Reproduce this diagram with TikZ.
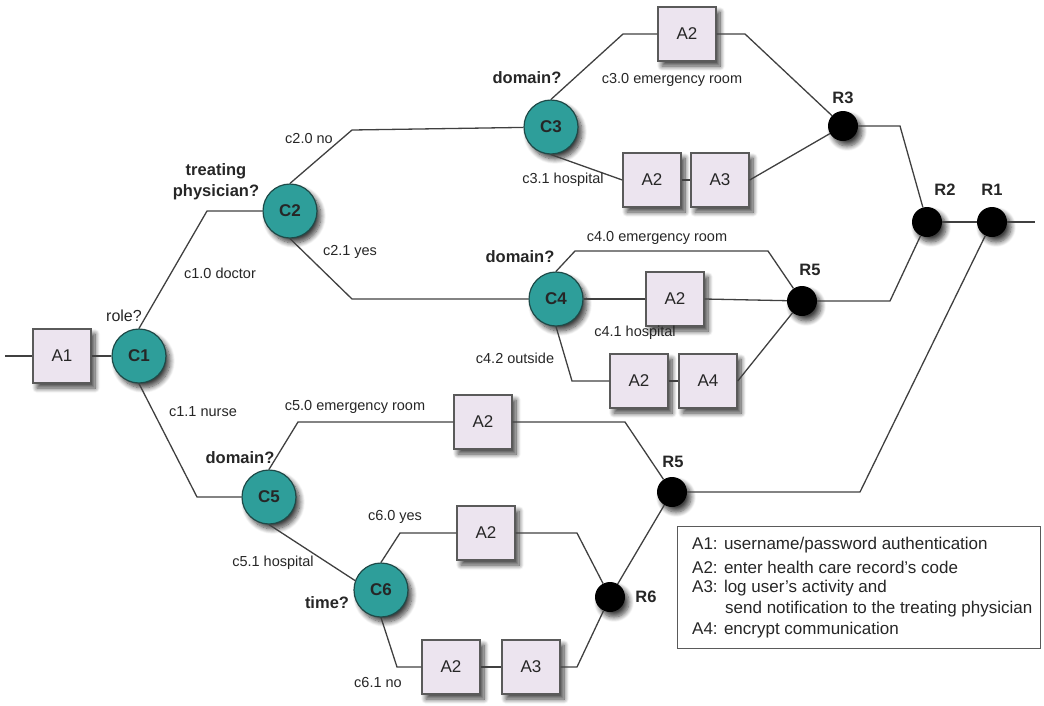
\documentclass[tikz,border=0pt]{standalone}
\usepackage{fontspec}
\setmainfont{Liberation Sans}
\usetikzlibrary{shadows.blur}
\definecolor{boxfill}{HTML}{ECE4EF}
\definecolor{boxline}{HTML}{5A5A5A}
\definecolor{condfill}{HTML}{2E9E9A}
\definecolor{condline}{HTML}{1E4A48}
\definecolor{wire}{HTML}{404040}
\definecolor{ink}{HTML}{262626}
\tikzset{
  shade/.style={blur shadow={shadow xshift=4pt,shadow yshift=-5pt,shadow blur steps=10,shadow blur radius=5pt,shadow opacity=75}},
  actbox/.style={draw=boxline,fill=boxfill,line width=1.4pt,minimum width=58pt,minimum height=54pt,
    inner sep=0pt,font=\fontsize{17}{19}\selectfont,text=ink,shade},
  cond/.style={circle,draw=condline,fill=condfill,line width=1.2pt,minimum size=54pt,inner sep=0pt,
    font=\fontsize{17}{19}\bfseries,text=ink,shade},
  joinpt/.style={circle,fill=black,minimum size=30pt,inner sep=0pt,shade},
  wireline/.style={draw=wire,line width=1.3pt},
  lbl/.style={font=\fontsize{14.5}{16}\selectfont,text=ink,inner sep=0pt},
  qlbl/.style={font=\fontsize{16.5}{21}\selectfont\bfseries,text=ink,inner sep=0pt,align=center},
  rlbl/.style={font=\fontsize{16.5}{18}\selectfont\bfseries,text=ink,inner sep=0pt},
  legtxt/.style={font=\fontsize{17}{21}\selectfont,text=ink,inner sep=0pt,anchor=west}
}
\begin{document}
\begin{tikzpicture}[x=1pt,y=-1pt]
\useasboundingbox (0,0) rectangle (1044,705);

% condition nodes
\node[cond] (C1) at (139,356) {C1};
\node[cond] (C2) at (290,211) {C2};
\node[cond] (C3) at (551,127) {C3};
\node[cond] (C4) at (556,299) {C4};
\node[cond] (C5) at (269,497) {C5};
\node[cond] (C6) at (381,590) {C6};

% join points
\node[joinpt] (R3) at (843,126) {};
\node[joinpt] (R2) at (927,222) {};
\node[joinpt] (R1) at (992,222) {};
\node[joinpt] (R5a) at (802,301) {};
\node[joinpt] (R5b) at (672,492) {};
\node[joinpt] (R6) at (610,597) {};

% activity boxes
\node[actbox] (bA1) at (62,356) {A1};
\node[actbox] (bA2t) at (687,34) {A2};
\node[actbox] (bA2h) at (652,180) {A2};
\node[actbox] (bA3h) at (720,180) {A3};
\node[actbox] (bA2m) at (675,299) {A2};
\node[actbox] (bA2o) at (639,381) {A2};
\node[actbox] (bA4o) at (708,381) {A4};
\node[actbox] (bA2e) at (483,422) {A2};
\node[actbox] (bA2y) at (486,533) {A2};
\node[actbox] (bA2n) at (451,667) {A2};
\node[actbox] (bA3n) at (531,667) {A3};

% free ends
\coordinate (inL) at (5,356);
\coordinate (outR) at (1035,222);

% connectors
\path[wireline] (inL) -- (bA1.west) (bA1.east) -- (C1);
\path[wireline] (C1.north) -- (207,211) -- (C2);
\path[wireline] (C1.south) -- (197,497) -- (C5);
\path[wireline] (C2.north) -- (352,130) -- (C3);
\path[wireline] (C2.south) -- (352,299) -- (C4);
\path[wireline] (C3.north) -- (623,34) -- (bA2t.west);
\path[wireline] (bA2t.east) -- (745,34) -- (R3);
\path[wireline] (C3.south) -- (bA2h.west);
\path[wireline] (bA2h) -- (bA3h);
\path[wireline] (bA3h.east) -- (R3);
\path[wireline] (R3) -- (900,126) -- (R2);
\path[wireline] (R2) -- (R1);
\path[wireline] (R1) -- (outR);
\path[wireline] (C4.north) -- (575,251) -- (768,251) -- (R5a);
\path[wireline] (C4) -- (bA2m.west);
\path[wireline] (bA2m.east) -- (R5a);
\path[wireline] (C4.south) -- (572,381) -- (bA2o.west);
\path[wireline] (bA2o) -- (bA4o);
\path[wireline] (bA4o.east) -- (R5a);
\path[wireline] (R5a) -- (890,301) -- (R2);
\path[wireline] (R1) -- (860,492) -- (R5b);
\path[wireline] (C5.north) -- (298,422) -- (bA2e.west);
\path[wireline] (bA2e.east) -- (625,422) -- (R5b);
\path[wireline] (C5.south) -- (C6.160);
\path[wireline] (C6.north) -- (400,533) -- (bA2y.west);
\path[wireline] (bA2y.east) -- (577,533) -- (R6);
\path[wireline] (C6.south) -- (397,667) -- (bA2n.west);
\path[wireline] (bA2n) -- (bA3n);
\path[wireline] (bA3n.east) -- (577,667) -- (R6);
\path[wireline] (R6) -- (R5b);

% question labels
\node[lbl,font=\fontsize{16}{18}\selectfont] (qC1) at (124,316) {role?};
\node[qlbl] (qC2) at (216,182) {treating\\physician?};
\node[qlbl] (qC3) at (527,78) {domain?};
\node[qlbl] (qC4) at (520,257) {domain?};
\node[qlbl] (qC5) at (240,458) {domain?};
\node[qlbl] (qC6) at (327,603) {time?};

% branch labels
\node[lbl] (l10) at (220,273) {c1.0 doctor};
\node[lbl] (l11) at (203,412) {c1.1 nurse};
\node[lbl] (l20) at (309,139) {c2.0 no};
\node[lbl] (l21) at (350,252) {c2.1 yes};
\node[lbl] (l30) at (672,80) {c3.0 emergency room};
\node[lbl] (l31) at (563,180) {c3.1 hospital};
\node[lbl] (l40) at (657,238) {c4.0 emergency room};
\node[lbl] (l41) at (635,333) {c4.1 hospital};
\node[lbl] (l42) at (515,358) {c4.2 outside};
\node[lbl] (l50) at (355,407) {c5.0 emergency room};
\node[lbl] (l51) at (273,563) {c5.1 hospital};
\node[lbl] (l60) at (395,517) {c6.0 yes};
\node[lbl] (l61) at (378,682) {c6.1 no};

% join labels
\node[rlbl] (tR3) at (843,98) {R3};
\node[rlbl] (tR2) at (945,190) {R2};
\node[rlbl] (tR1) at (992,190) {R1};
\node[rlbl] (tR5a) at (810,270) {R5};
\node[rlbl] (tR5b) at (673,462) {R5};
\node[rlbl] (tR6) at (646,597) {R6};

% legend
\node[draw=boxline,line width=1.4pt,fill=white,minimum width=363pt,minimum height=122pt,anchor=north west] (legend) at (677,526) {};
\node[legtxt] (lg1) at (692,545) {A1: username/password authentication};
\node[legtxt] (lg2) at (692,567) {A2: enter health care record's code};
\node[legtxt] (lg3) at (692,588) {A3: log user's activity and};
\node[legtxt] (lg4) at (725,609) {send notification to the treating physician};
\node[legtxt] (lg5) at (692,630) {A4: encrypt communication};
\end{tikzpicture}
\end{document}
